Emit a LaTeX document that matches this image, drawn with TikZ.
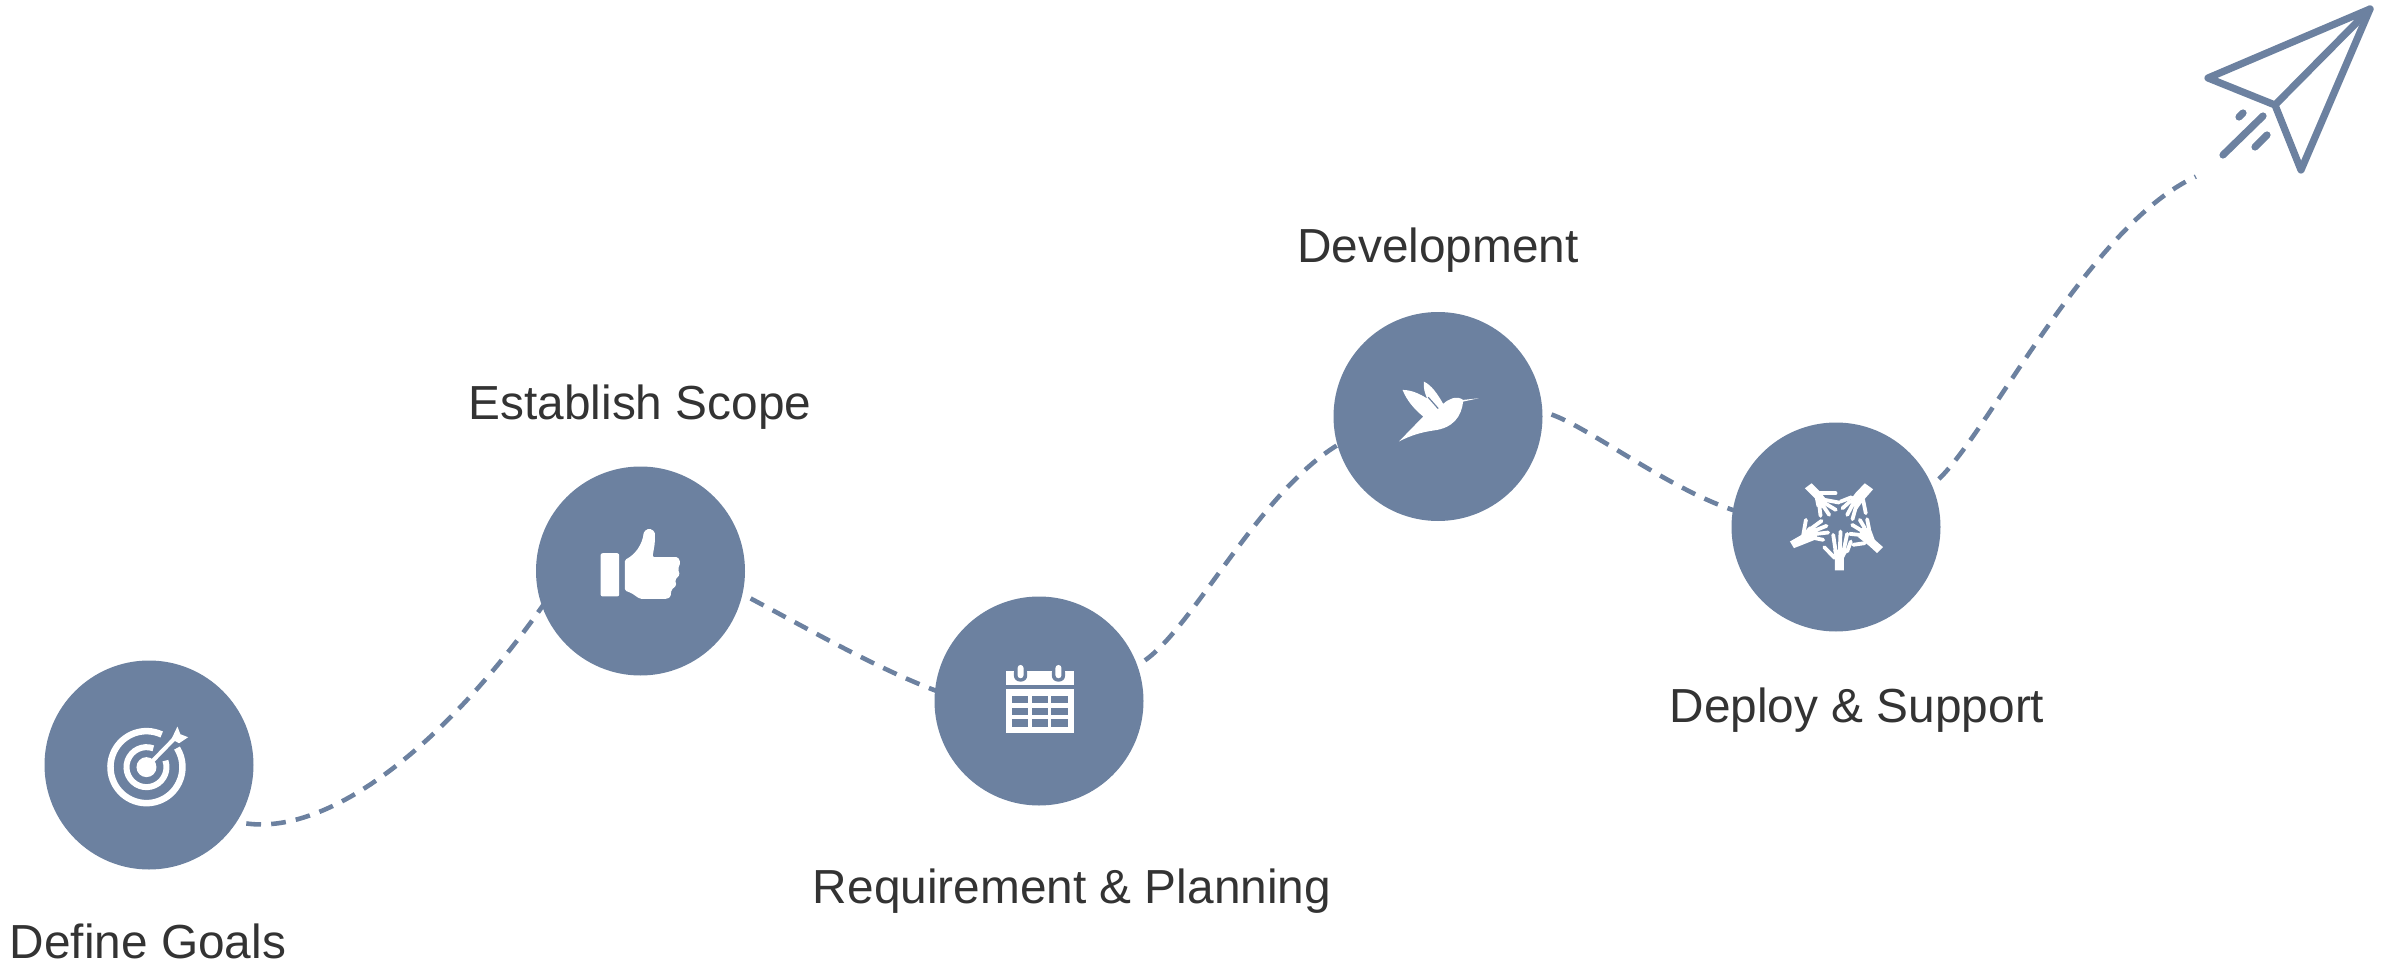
\documentclass[tikz,border=0pt]{standalone}
\usepackage{fontspec}
\setmainfont{Liberation Sans}
\usepackage{tikz}
\usetikzlibrary{positioning,calc}
\definecolor{slateblue}{RGB}{108,129,160}
\definecolor{labelgray}{RGB}{51,51,51}
\tikzset{
	stage/.style={circle,fill=slateblue,minimum size=2.09cm,inner sep=0pt,outer sep=0.09cm},
	stagelabel/.style={text=labelgray,font=\fontsize{13.6pt}{16pt}\selectfont,inner sep=0pt},
	trail/.style={draw=slateblue,line width=1.3pt,dash pattern=on 4.2pt off 2.9pt,shorten >=-0.13cm},
	plane/.style={draw=slateblue,line width=0.072cm,line cap=round,line join=round},
	iconscale/.style={x=0.003333cm,y=-0.003333cm},
	finger/.style={draw=white,line width=0.038cm,line cap=round}
}
\begin{document}
\begin{tikzpicture}
	\useasboundingbox (0,0) rectangle (23.95,9.66);

		\node[stage] (goals) at (1.49,2.01) {};
		\node[stage] (scope) at (6.405,3.95) {};
		\node[stage] (planning) at (10.39,2.65) {};
		\node[stage] (development) at (14.38,5.495) {};
		\node[stage] (deploy) at (18.36,4.39) {};

		\node[stagelabel] (goalstext) at (1.48,0.25) {Define Goals};
		\node[stagelabel] (scopetext) at (6.40,5.585) {Establish Scope};
		\node[stagelabel] (planningtext) at (10.72,0.745) {Requirement \& Planning};
		\node[stagelabel] (developmenttext) at (14.38,7.155) {Development};
		\node[stagelabel] (deploytext) at (18.57,2.555) {Deploy \& Support};

		\coordinate (trailend) at (21.84,7.84);
		\draw[trail] (goals.-31) .. controls (3.30,1.31) and (4.45,2.21) .. (scope.203);
		\draw[trail] (scope.-14) .. controls (8.10,3.36) and (8.80,2.96) .. (planning.173);
		\draw[trail] (planning.21) .. controls (11.95,3.41) and (12.60,4.76) .. (development.197);
		\draw[trail] (development.1) .. controls (15.90,5.38) and (16.70,4.76) .. (deploy.170);
		\draw[trail] (deploy.25) .. controls (19.90,5.36) and (20.90,7.41) .. (trailend);

		% paper plane
		\coordinate (tip) at (23.70,9.57);
		\coordinate (wing) at (22.08,8.88);
		\coordinate (fold) at (22.75,8.61);
		\coordinate (keel) at (23.01,7.96);
		\draw[plane] (tip) -- (wing) -- (fold) -- cycle;
		\draw[plane] (fold) -- (keel) -- (tip);
		\draw[plane] (22.63,8.50) -- (22.23,8.11);
		\draw[plane] (22.43,8.53) -- (22.39,8.49);
		\draw[plane] (22.67,8.31) -- (22.55,8.19);

		% target
		\begin{scope}[shift={(0.60,2.86)},iconscale]
			\draw[white,line width=0.065cm] (260,262) ++(65:0.36cm) arc[start angle=65,end angle=392,radius=0.36cm];
			\draw[white,line width=0.06cm] (260,262) ++(70:0.20cm) arc[start angle=70,end angle=379,radius=0.20cm];
			\fill[white] (260,262) circle[radius=0.10cm];
			\draw[white,line width=0.04cm] (265,257) -- (345,175);
			\fill[white] (353,140) -- (362,163) -- (385,172) -- (358,190) -- (335,178) -- cycle;
		\end{scope}

		% thumb
		\begin{scope}[shift={(5.60,4.66)},iconscale]
			\fill[white,rounded corners=0.02cm] (122,160) rectangle (178,290);
			\fill[white,rounded corners=0.015cm] (195,180) .. controls (225,165) and (248,135) .. (252,95) -- (268,85) -- (285,95) -- (285,130) -- (278,172) -- (355,172) -- (362,188) -- (355,207) -- (360,225) -- (346,240) -- (350,257) -- (335,270) -- (332,292) -- (322,297) -- (240,297) -- (215,280) -- (195,272) -- cycle;
		\end{scope}

		% calendar
		\begin{scope}[shift={(9.70,3.26)},iconscale]
			\fill[white] (107,93) rectangle (313,135);
			\fill[white] (107,148) rectangle (313,280);
			\foreach \x in {152,266}
			{
				\fill[slateblue,rounded corners=0.06cm] (\x-20,80) rectangle (\x+20,125);
				\fill[white,rounded corners=0.03cm] (\x-9,75) rectangle (\x+9,115);
			}
			\foreach \x/\w in {125/50,187/46,245/50}
			\foreach \y/\h in {167/21,203/22,238/24}
			\fill[slateblue] (\x,\y) rectangle (\x+\w,\y+\h);
		\end{scope}

		% bird
		\begin{scope}[shift={(13.70,6.06)},iconscale]
			\fill[white] (87,245) -- (160,170) .. controls (130,145) and (110,120) .. (98,90) .. controls (125,90) and (150,102) .. (172,116) .. controls (165,100) and (160,85) .. (162,65) .. controls (185,75) and (205,105) .. (220,132) .. controls (235,118) and (260,105) .. (280,120) -- (327,115) -- (280,125) .. controls (275,170) and (250,205) .. (190,212) .. controls (150,218) and (120,228) .. (87,245) -- cycle;
			\draw[slateblue,line width=0.012cm] (175,112) -- (205,146);
		\end{scope}

		% hands
		\begin{scope}[shift={(17.70,5.06)},iconscale]
			\fill[white] (105,85) -- (125,70) -- (150,95) -- (172,122) -- (160,145) -- (140,140) -- (135,115) -- cycle;
			\foreach \a/\b/\c/\d in {150/100/197/100,165/120/208/128,165/130/198/150,158/135/178/165,148/135/152/168}
			\draw[finger] (\a,\b) -- (\c,\d);

			\fill[white] (285,70) -- (310,88) -- (282,120) -- (262,148) -- (238,125) -- (258,98) -- cycle;
			\foreach \a/\b/\c/\d in {245/112/212/125,240/125/218/145,248/135/232/165,258/142/248/178,280/120/288/160}
			\draw[finger] (\a,\b) -- (\c,\d);

			\fill[white] (340,262) -- (322,280) -- (298,258) -- (265,232) -- (275,205) -- (302,205) -- (315,240) -- cycle;
			\foreach \a/\b/\c/\d in {298/208/292/178,285/205/270/180,275/212/247/195,268/225/240/222,285/250/250/255}
			\draw[finger] (\a,\b) -- (\c,\d);

			\fill[white] (60,245) -- (72,265) -- (110,250) -- (140,238) -- (145,205) -- (118,200) -- (95,225) -- cycle;
			\foreach \a/\b/\c/\d in {125/205/155/183,135/212/170/198,140/222/175/218,135/235/160/240,100/225/108/180}
			\draw[finger] (\a,\b) -- (\c,\d);

			\fill[white] (195,332) -- (222,332) -- (222,295) -- (235,270) -- (190,270) -- (195,295) -- cycle;
			\foreach \a/\b/\c/\d in {195/295/163/262,197/272/190/225,210/270/212/215,222/270/232/222,232/275/243/245}
			\draw[finger] (\a,\b) -- (\c,\d);
		\end{scope}
\end{tikzpicture}
\end{document}
